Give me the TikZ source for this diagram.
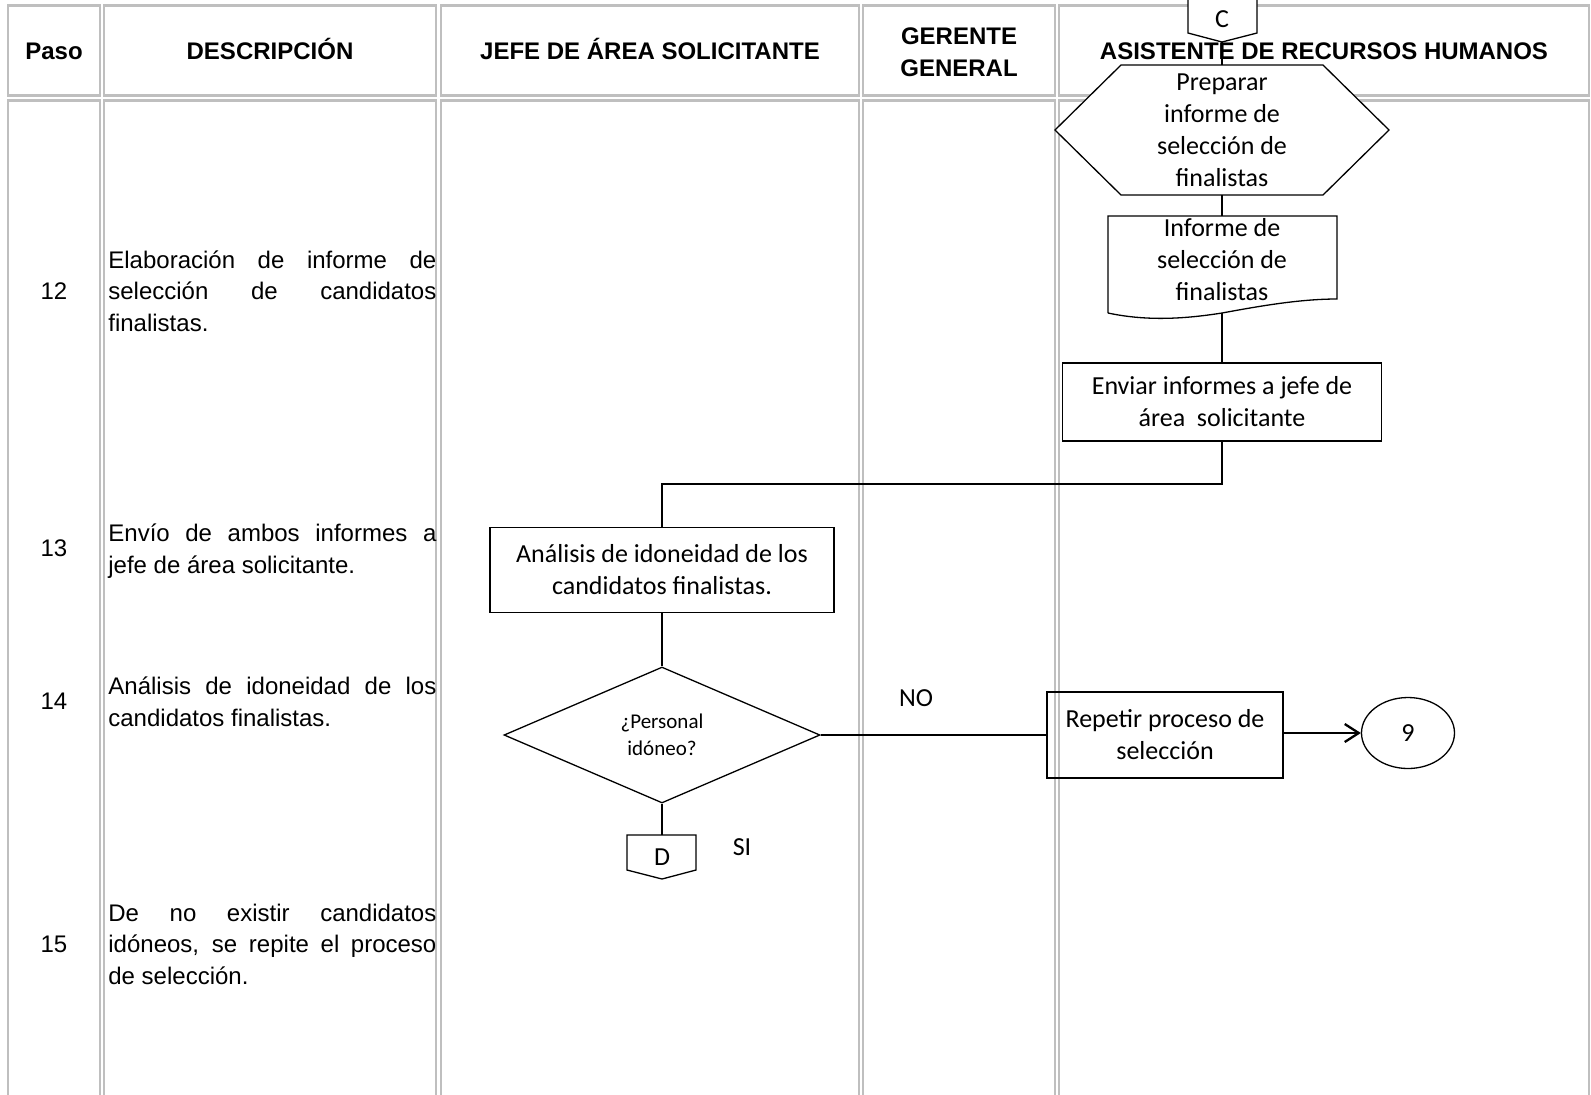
\documentclass[tikz,border=0pt]{standalone}
\usepackage{fontspec}
\setmainfont{Liberation Sans}
\newfontfamily\calibri{Carlito}
\usetikzlibrary{shapes.geometric,arrows.meta}
\definecolor{cellgray}{RGB}{191,191,191}

\begin{document}
\begin{tikzpicture}[x=0.5pt, y=-0.5pt,
    cell/.style={draw=cellgray, line width=1.3pt},
    head/.style={align=center, font=\fontsize{12}{16}\selectfont\bfseries},
    stepno/.style={font=\fontsize{12}{15.75}\selectfont},
    desc/.style={anchor=west, text width=164pt, align=justify, inner sep=0pt, font=\fontsize{12}{15.75}\selectfont},
    outline/.style={draw=black, line width=0.65pt},
    txt/.style={align=center, inner sep=0pt, font=\calibri\fontsize{13}{16}\selectfont},
    proc/.style={rectangle, outline, align=center, inner sep=2pt, font=\calibri\fontsize{13}{16}\selectfont},
    decision/.style={diamond, outline, aspect=2.3, inner sep=1pt, align=center, font=\calibri\fontsize{10.5}{13.5}\selectfont},
    term/.style={ellipse, outline, inner sep=0pt, font=\calibri\fontsize{13}{16}\selectfont},
    flow/.style={line width=1.15pt},
    arrow/.style={flow, -{Straight Barb[length=7pt, width=9pt]}}
]
\useasboundingbox (0,0) rectangle (1591,1094);

% table cells (header row and body row)
\foreach \l/\r in {8/100, 104/436, 441/859, 863/1055, 1059/1589}{
  \draw[cell] (\l,5.5) rectangle (\r,95.5);
  \draw[cell] (\l,100.5) rectangle (\r,1110);
}

\node[head, anchor=base] (hpaso) at (54,59.5)   {Paso};
\node[head, anchor=base] (hdesc) at (270,59.5)  {DESCRIPCIÓN};
\node[head, anchor=base] (hjefe) at (650,59.5)  {JEFE DE ÁREA SOLICITANTE};
\node[head] (hger)  at (959,52)  {GERENTE\\GENERAL};
\node[head, anchor=base] (hasis) at (1324,59.5) {ASISTENTE DE RECURSOS HUMANOS};

% steps
\node[stepno] (n12) at (54,291) {12};
\node[desc]   (d12) at (108,291) {Elaboración de informe de\linebreak selección de candidatos\linebreak finalistas.};
\node[stepno] (n13) at (54,548) {13};
\node[desc]   (d13) at (108,551) {Envío de ambos informes a\linebreak jefe de área solicitante.};
\node[stepno] (n14) at (54,701) {14};
\node[desc]   (d14) at (108,702) {Análisis de idoneidad de los\linebreak candidatos finalistas.};
\node[stepno] (n15) at (54,944) {15};
\node[desc]   (d15) at (108,944) {De no existir candidatos\linebreak idóneos, se repite el proceso\linebreak de selección.};

% off-page connector C
\draw[outline, fill=white] (1188,-4) -- (1188,33) -- (1222,42) -- (1257,33) -- (1257,-4) -- cycle;
\node[txt, minimum height=23pt] (offc) at (1222,19) {C};

% preparation (hexagon)
\draw[outline, fill=white] (1055,130) -- (1121,65) -- (1323,65) -- (1389,130) -- (1323,195) -- (1121,195) -- cycle;
\node[txt, minimum height=65pt] (prep) at (1222,130) {Preparar\\informe de\\selección de\\finalistas};

% document
\node[txt, minimum width=114.5pt, minimum height=44pt] (doc) at (1222,260) {Informe de\\selección de\\finalistas};
\draw[outline] (1108,313) -- (1108,216) -- (1337,216) -- (1337,299)
  .. controls (1300,299) and (1260,306) .. (1222,313)
  .. controls (1190,318) and (1150,322) .. (1108,313);
\coordinate (docbot) at (1222,313);

\node[proc, minimum width=159.5pt, minimum height=39pt] (env) at (1222,402) {Enviar informes a jefe de\\área~ solicitante};
\node[proc, minimum width=172pt, minimum height=42.5pt] (idon) at (662,570) {Análisis de idoneidad de los\\candidatos finalistas.};
\node[decision, minimum width=158pt, minimum height=68pt] (dec) at (662,735) {¿Personal\\idóneo?};

% off-page connector D
\draw[outline, fill=white] (627,835) -- (627,870) -- (662,879) -- (696,870) -- (696,835) -- cycle;
\node[txt, minimum height=22pt] (offd) at (662,857) {D};

\node[proc, minimum width=118pt, minimum height=43pt] (rep) at (1165,735) {Repetir proceso de\\selección};
\node[term, minimum width=46.5pt, minimum height=35.5pt] (nine) at (1408,733) {9};

\node[txt] (lno) at (916,698) {NO};
\node[txt] (lsi) at (742,847) {SI};

% connectors
\coordinate (bend) at (1222,484);
\draw[flow] (offc.south) -- (prep.north);
\draw[flow] (prep.south) -- (doc.north);
\draw[flow] (docbot) -- (env.north);
\draw[flow] (env.south) -- (bend) -| (idon.north);
\draw[flow] (idon.south) -- (dec.north);
\draw[flow] (dec.south) -- (offd.north);
\draw[flow] (dec.east) -- (rep.west);
\draw[arrow] (rep.east |- nine.west) -- (nine.west);

\end{tikzpicture}
\end{document}
